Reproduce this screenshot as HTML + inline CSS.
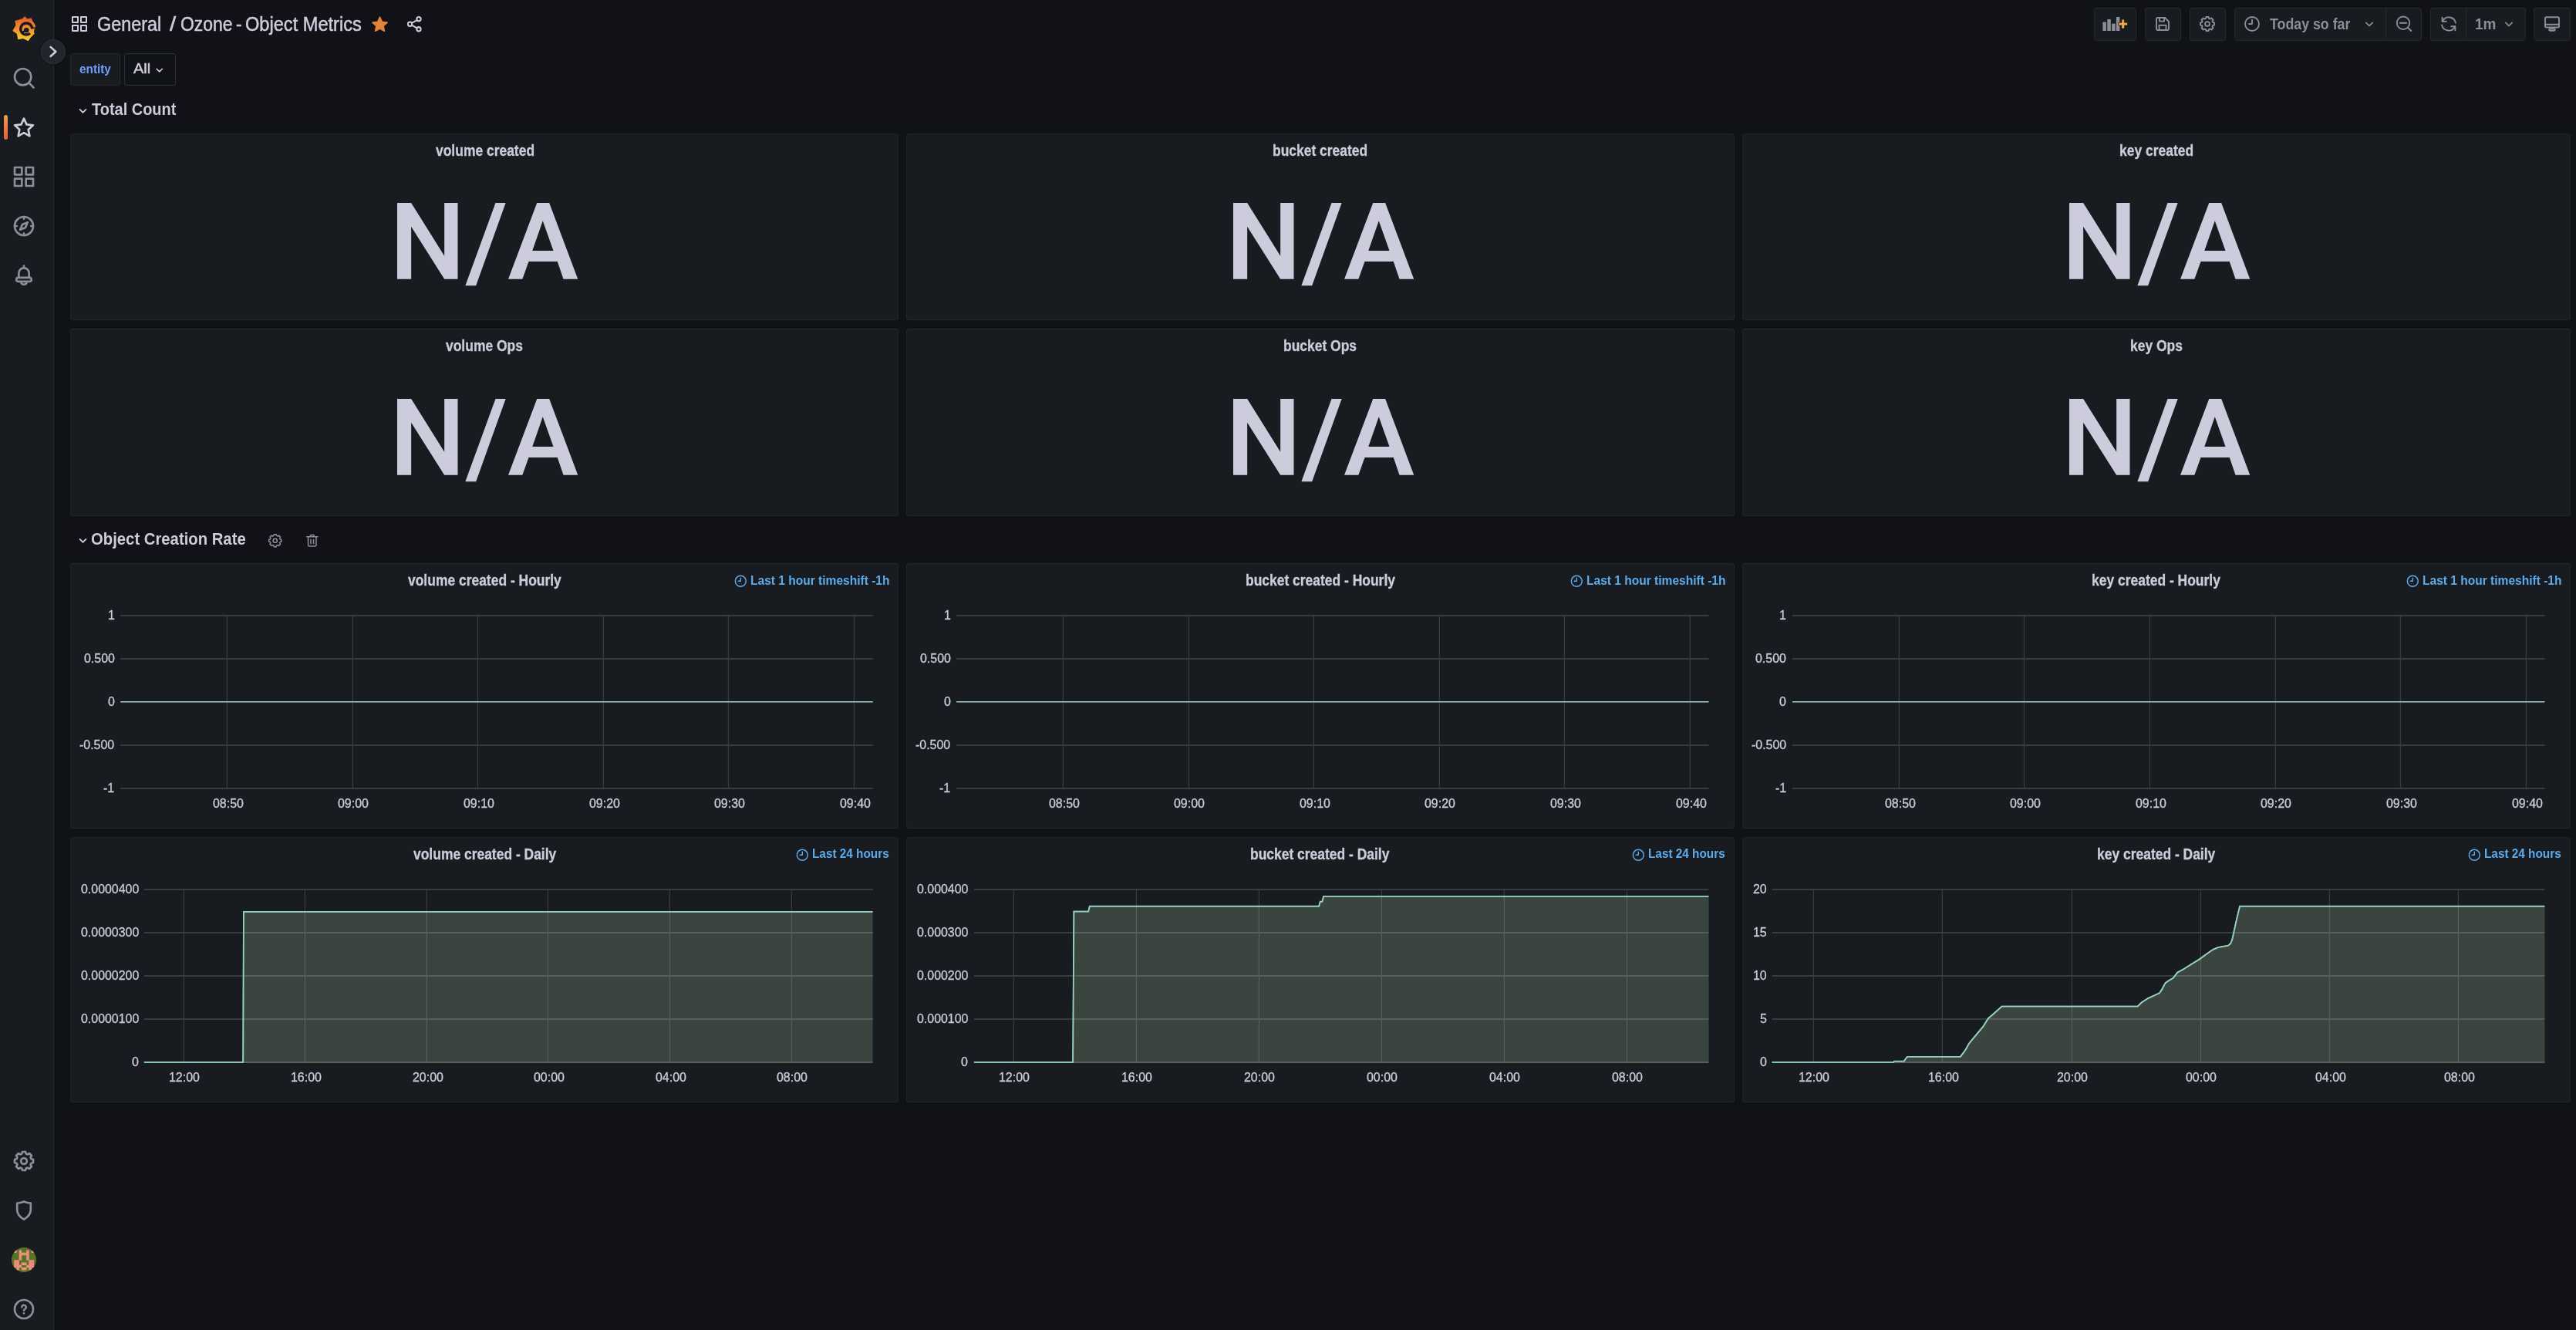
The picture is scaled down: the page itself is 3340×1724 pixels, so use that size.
<!DOCTYPE html>
<html><head><meta charset="utf-8"><title>Ozone - Object Metrics - Grafana</title>
<style>
html,body{margin:0;padding:0;}
body{width:3340px;height:1724px;background:#111217;position:relative;overflow:hidden;font-family:"Liberation Sans",sans-serif;}
.a{position:absolute;display:block;}
.t{position:absolute;white-space:nowrap;line-height:normal;transform-origin:0 0;}
</style></head><body>
<div class="a" style="left:0.00px;top:0.00px;width:69.00px;height:1724.00px;background:#181b1f;"></div>
<div class="a" style="left:69.00px;top:0.00px;width:1.00px;height:1724.00px;background:#26282d;"></div>
<svg class="a" style="left:16.10px;top:21.00px;" width="30.20" height="32.20" viewBox="0 0 30.2 32.2"><defs><linearGradient id="lg" x1="0" y1="0" x2="0" y2="1"><stop offset="0" stop-color="#e8552c"/><stop offset="0.45" stop-color="#ef8a2d"/><stop offset="1" stop-color="#f6cf33"/></linearGradient></defs>
<path fill="url(#lg)" d="M16.100 0 L19.200 3.300 L24.800 2.600 L26.400 6.800 C28.600 8.800 29.900 11.500 30.100 14.300 L28.700 14.700 C28.600 17 28.300 19.500 27.900 21 L28.900 22.400 L23.900 27.600 L20.750 32.200 L13.900 29.100 L7.300 30.300 L5.750 22.800 L0.250 19.100 L4.500 11.600 L3.250 5.900 L8.900 4.600 L13.250 3.100 Z"/>
<path d="M23.070 22.250 A7.500 7.500 0 1 1 25.640 15.200" fill="none" stroke="#181b1f" stroke-width="3.400"/>
<path d="M24 14.900 L27.300 14.300 L29.700 14.500 L27 16.200 L24.800 16.900 Z" fill="#181b1f"/>
<circle cx="18.250" cy="18.300" r="3.300" fill="#181b1f"/>
<path d="M16 19.300 L12.500 21.200" stroke="#181b1f" stroke-width="2.400" fill="none"/></svg>
<div class="a" style="left:53px;top:51.2px;width:32px;height:32px;border-radius:50%;background:#22252b;box-shadow:inset 0 0 0 1px #2e3138, 0 0 3px rgba(0,0,0,.5);"></div>
<svg class="a" style="left:53.00px;top:51.20px;" width="32.00" height="32.00" viewBox="0 0 32 32"><path d="M12.600 9.900L19.300 16 12.600 22" fill="none" stroke="#ccccdc" stroke-width="2.6" stroke-linecap="round" stroke-linejoin="round"/></svg>
<div class="a" style="left:5px;top:149px;width:5px;height:31.500px;border-radius:2.500px;background:linear-gradient(#f39a4c,#e8613c);"></div>
<svg class="a" style="left:15.00px;top:85.00px;" width="32.00" height="32.00" viewBox="0 0 24 24"><g fill="none" stroke="#8d8e9a" color="#8d8e9a" stroke-width="2.0" stroke-linecap="round" stroke-linejoin="round"><circle cx="11" cy="11" r="8"/><path d="M17 17l4.400 4.400"/></g></svg>
<svg class="a" style="left:15.00px;top:149.00px;" width="32.00" height="32.00" viewBox="0 0 24 24"><g fill="none" stroke="#ccccdc" color="#ccccdc" stroke-width="2.0" stroke-linecap="round" stroke-linejoin="round"><path d="M12.00 3.50L14.65 9.26L20.94 10.00L16.28 14.29L17.53 20.50L12.00 17.40L6.47 20.50L7.72 14.29L3.06 10.00L9.35 9.26Z"/></g></svg>
<svg class="a" style="left:15.00px;top:213.00px;" width="32.00" height="32.00" viewBox="0 0 24 24"><g fill="none" stroke="#8d8e9a" color="#8d8e9a" stroke-width="2.0" stroke-linecap="round" stroke-linejoin="round"><rect x="3" y="3" width="7" height="7"/><rect x="14" y="3" width="7" height="7"/><rect x="3" y="14" width="7" height="7"/><rect x="14" y="14" width="7" height="7"/></g></svg>
<svg class="a" style="left:15.00px;top:277.00px;" width="32.00" height="32.00" viewBox="0 0 24 24"><g fill="none" stroke="#8d8e9a" color="#8d8e9a" stroke-width="2.0" stroke-linecap="round" stroke-linejoin="round"><circle cx="12" cy="12" r="9"/><path d="M15.6 8.4l-2.1 5.1-5.1 2.1 2.1-5.1z"/><path d="M12 3v2.100M12 18.900V21M3 12h2.100M18.900 12H21" stroke-width="1.900"/></g></svg>
<svg class="a" style="left:15.00px;top:341.00px;" width="32.00" height="32.00" viewBox="0 0 24 24"><g fill="none" stroke="#8d8e9a" color="#8d8e9a" stroke-width="2.0" stroke-linecap="round" stroke-linejoin="round"><path d="M12 2.700v2.100M7 14.200V9.800a5 5 0 0 1 10 0v4.400"/><rect x="4.700" y="14.200" width="14.600" height="3.700" rx="1.800"/><path d="M9.200 18.700a2.900 2.900 0 0 0 5.600 0"/></g></svg>
<svg class="a" style="left:15.00px;top:1489.00px;" width="32.00" height="32.00" viewBox="0 0 24 24"><g fill="none" stroke="#8d8e9a" color="#8d8e9a" stroke-width="2.0" stroke-linecap="round" stroke-linejoin="round"><path d="M10.41 2.99L13.59 2.99L14.03 4.93L15.56 5.57L17.25 4.50L19.50 6.75L18.43 8.44L19.07 9.97L21.01 10.41L21.01 13.59L19.07 14.03L18.43 15.56L19.50 17.25L17.25 19.50L15.56 18.43L14.03 19.07L13.59 21.01L10.41 21.01L9.97 19.07L8.44 18.43L6.75 19.50L4.50 17.25L5.57 15.56L4.93 14.03L2.99 13.59L2.99 10.41L4.93 9.97L5.57 8.44L4.50 6.75L6.75 4.50L8.44 5.57L9.97 4.93Z"/><circle cx="12" cy="12" r="2.9"/></g></svg>
<svg class="a" style="left:15.00px;top:1553.00px;" width="32.00" height="32.00" viewBox="0 0 24 24"><g fill="none" stroke="#8d8e9a" color="#8d8e9a" stroke-width="2.0" stroke-linecap="round" stroke-linejoin="round"><path d="M12 3.4c2.2 1 4.4 1.5 6.6 1.5v6.6c0 4-2.6 7-6.6 9.2-4-2.2-6.6-5.2-6.6-9.2V4.9c2.2 0 4.4-.5 6.6-1.5z"/></g></svg>
<svg class="a" style="left:15.00px;top:1681.00px;" width="32.00" height="32.00" viewBox="0 0 24 24"><g fill="none" stroke="#8d8e9a" color="#8d8e9a" stroke-width="2.0" stroke-linecap="round" stroke-linejoin="round"><circle cx="12" cy="12" r="9"/><path d="M10 10.100a2.050 2.050 0 1 1 3 1.800c-.6.350-1 .800-1 1.500" stroke-width="1.800"/><circle cx="12" cy="16" r="1" fill="currentColor" stroke="none"/></g></svg>
<svg class="a" style="left:15.00px;top:1617.00px;" width="32.00" height="32.00" viewBox="0 0 32 32"><defs><clipPath id="avc"><circle cx="16" cy="16" r="16"/></clipPath></defs><g clip-path="url(#avc)"><rect width="32" height="32" fill="#567523"/><rect x="3.2" y="3.5" width="3.5" height="3.5" fill="#f08c82"/><rect x="9.6" y="3.5" width="3.5" height="3.5" fill="#f08c82"/><rect x="19.2" y="3.5" width="3.5" height="3.5" fill="#f08c82"/><rect x="25.6" y="3.5" width="3.5" height="3.5" fill="#f08c82"/><rect x="9.6" y="6.7" width="3.5" height="3.5" fill="#f08c82"/><rect x="12.8" y="6.7" width="3.5" height="3.5" fill="#f08c82"/><rect x="16.0" y="6.7" width="3.5" height="3.5" fill="#f08c82"/><rect x="19.2" y="6.7" width="3.5" height="3.5" fill="#f08c82"/><rect x="9.6" y="9.9" width="3.5" height="3.5" fill="#f08c82"/><rect x="19.2" y="9.9" width="3.5" height="3.5" fill="#f08c82"/><rect x="9.6" y="13.1" width="3.5" height="3.5" fill="#f08c82"/><rect x="19.2" y="13.1" width="3.5" height="3.5" fill="#f08c82"/><rect x="3.2" y="16.3" width="3.5" height="3.5" fill="#f08c82"/><rect x="6.4" y="16.3" width="3.5" height="3.5" fill="#f08c82"/><rect x="22.4" y="16.3" width="3.5" height="3.5" fill="#f08c82"/><rect x="25.6" y="16.3" width="3.5" height="3.5" fill="#f08c82"/><rect x="3.2" y="19.5" width="3.5" height="3.5" fill="#f08c82"/><rect x="6.4" y="19.5" width="3.5" height="3.5" fill="#f08c82"/><rect x="12.8" y="19.5" width="3.5" height="3.5" fill="#f08c82"/><rect x="16.0" y="19.5" width="3.5" height="3.5" fill="#f08c82"/><rect x="22.4" y="19.5" width="3.5" height="3.5" fill="#f08c82"/><rect x="25.6" y="19.5" width="3.5" height="3.5" fill="#f08c82"/><rect x="3.2" y="22.7" width="3.5" height="3.5" fill="#f08c82"/><rect x="6.4" y="22.7" width="3.5" height="3.5" fill="#f08c82"/><rect x="9.6" y="22.7" width="3.5" height="3.5" fill="#f08c82"/><rect x="19.2" y="22.7" width="3.5" height="3.5" fill="#f08c82"/><rect x="22.4" y="22.7" width="3.5" height="3.5" fill="#f08c82"/><rect x="25.6" y="22.7" width="3.5" height="3.5" fill="#f08c82"/><rect x="6.4" y="25.9" width="3.5" height="3.5" fill="#f08c82"/><rect x="12.8" y="25.9" width="3.5" height="3.5" fill="#f08c82"/><rect x="16.0" y="25.9" width="3.5" height="3.5" fill="#f08c82"/><rect x="22.4" y="25.9" width="3.5" height="3.5" fill="#f08c82"/></g></svg>
<svg class="a" style="left:90.70px;top:19.00px;" width="24.00" height="24.00" viewBox="0 0 24 24"><g fill="none" stroke="#ccccdc" color="#ccccdc" stroke-width="2.0" stroke-linecap="round" stroke-linejoin="round"><rect x="3" y="3" width="7" height="7"/><rect x="14" y="3" width="7" height="7"/><rect x="3" y="14" width="7" height="7"/><rect x="14" y="14" width="7" height="7"/></g></svg>
<svg class="a" style="left:480.00px;top:19.00px;" width="25.00" height="25.00" viewBox="0 0 24 24"><path d="M12.00 3.00L14.70 8.88L21.13 9.63L16.37 14.02L17.64 20.37L12.00 17.20L6.36 20.37L7.63 14.02L2.87 9.63L9.30 8.88Z" fill="#e2833a" stroke="#e2833a" stroke-width="1.6" stroke-linejoin="round"/></svg>
<svg class="a" style="left:524.55px;top:18.75px;" width="24.50" height="24.50" viewBox="0 0 24 24"><g fill="none" stroke="#ccccdc" color="#ccccdc" stroke-width="2.0" stroke-linecap="round" stroke-linejoin="round"><circle cx="17.6" cy="5.6" r="2.6"/><circle cx="6.4" cy="12" r="2.6"/><circle cx="17.6" cy="18.4" r="2.6"/><path d="M8.7 10.7l6.6-3.8M8.7 13.3l6.6 3.8"/></g></svg>
<div class="a" style="left:2715.00px;top:10.25px;width:55.00px;height:42.50px;background:#181b1f;border:1px solid #25272c;box-sizing:border-box;border-radius:3px;"></div>
<div class="a" style="left:2781.00px;top:10.25px;width:47.00px;height:42.50px;background:#181b1f;border:1px solid #25272c;box-sizing:border-box;border-radius:3px;"></div>
<div class="a" style="left:2839.00px;top:10.25px;width:47.00px;height:42.50px;background:#181b1f;border:1px solid #25272c;box-sizing:border-box;border-radius:3px;"></div>
<div class="a" style="left:2897.00px;top:10.25px;width:197.00px;height:42.50px;background:#181b1f;border:1px solid #25272c;box-sizing:border-box;border-radius:3px 0 0 3px;"></div>
<div class="a" style="left:3093.00px;top:10.25px;width:47.00px;height:42.50px;background:#181b1f;border:1px solid #25272c;box-sizing:border-box;border-radius:0 3px 3px 0;"></div>
<div class="a" style="left:3151.00px;top:10.25px;width:47.00px;height:42.50px;background:#181b1f;border:1px solid #25272c;box-sizing:border-box;border-radius:3px 0 0 3px;"></div>
<div class="a" style="left:3197.00px;top:10.25px;width:78.00px;height:42.50px;background:#181b1f;border:1px solid #25272c;box-sizing:border-box;border-radius:0 3px 3px 0;"></div>
<div class="a" style="left:3285.00px;top:10.25px;width:48.00px;height:42.50px;background:#181b1f;border:1px solid #25272c;box-sizing:border-box;border-radius:3px;"></div>
<svg class="a" style="left:2725.50px;top:22.00px;" width="33.00" height="18.00" viewBox="0 0 33 18"><g fill="#8d8e9a"><rect x="0.4" y="6.5" width="4.5" height="11.5"/><rect x="6.3" y="3" width="4.5" height="15"/><rect x="12.15" y="8.6" width="4.5" height="9.4"/><rect x="17.9" y="0" width="4.5" height="18"/></g><defs><linearGradient id="pg" x1="0" y1="0" x2="0" y2="1"><stop offset="0" stop-color="#f0943a"/><stop offset="1" stop-color="#f7c13c"/></linearGradient></defs><path d="M20.75 7.2h4.100v-4.100h3.700v4.100h4.100v3.700h-4.100v4.100h-3.700v-4.100h-4.100z" fill="url(#pg)" stroke="#181b1f" stroke-width="0.8"/></svg>
<svg class="a" style="left:2791.60px;top:19.25px;" width="24.00" height="24.00" viewBox="0 0 24 24"><g fill="none" stroke="#8d8e9a" color="#8d8e9a" stroke-width="1.9" stroke-linecap="round" stroke-linejoin="round"><path d="M4 5.5A1.5 1.5 0 0 1 5.5 4H15l5 5v9.5a1.5 1.5 0 0 1-1.5 1.5h-13A1.5 1.5 0 0 1 4 18.500z"/><path d="M8 4v4.600h6V4M7.5 20v-6.200h9V20"/></g></svg>
<svg class="a" style="left:2850.00px;top:19.25px;" width="24.00" height="24.00" viewBox="0 0 24 24"><g fill="none" stroke="#8d8e9a" color="#8d8e9a" stroke-width="1.9" stroke-linecap="round" stroke-linejoin="round"><path d="M10.41 2.99L13.59 2.99L14.03 4.93L15.56 5.57L17.25 4.50L19.50 6.75L18.43 8.44L19.07 9.97L21.01 10.41L21.01 13.59L19.07 14.03L18.43 15.56L19.50 17.25L17.25 19.50L15.56 18.43L14.03 19.07L13.59 21.01L10.41 21.01L9.97 19.07L8.44 18.43L6.75 19.50L4.50 17.25L5.57 15.56L4.93 14.03L2.99 13.59L2.99 10.41L4.93 9.97L5.57 8.44L4.50 6.75L6.75 4.50L8.44 5.57L9.97 4.93Z"/><circle cx="12" cy="12" r="2.9"/></g></svg>
<svg class="a" style="left:2908.00px;top:19.25px;" width="24.00" height="24.00" viewBox="0 0 24 24"><g fill="none" stroke="#8d8e9a" color="#8d8e9a" stroke-width="1.9" stroke-linecap="round" stroke-linejoin="round"><circle cx="12" cy="12" r="9"/><path d="M12 6.800V12H8"/></g></svg>
<svg class="a" style="left:3061.75px;top:20.50px;" width="20.00" height="20.00" viewBox="0 0 24 24"><g fill="none" stroke="#8d8e9a" color="#8d8e9a" stroke-width="2.1" stroke-linecap="round" stroke-linejoin="round"><path d="M7 10l5 5 5-5"/></g></svg>
<svg class="a" style="left:3105.00px;top:19.25px;" width="24.00" height="24.00" viewBox="0 0 24 24"><g fill="none" stroke="#8d8e9a" color="#8d8e9a" stroke-width="1.9" stroke-linecap="round" stroke-linejoin="round"><circle cx="11" cy="10.75" r="8.2"/><path d="M17 16.8L21.200 21M6.800 10.750h8.400"/></g></svg>
<svg class="a" style="left:3162.75px;top:19.25px;" width="24.00" height="24.00" viewBox="0 0 24 24"><g fill="none" stroke="#8d8e9a" color="#8d8e9a" stroke-width="1.9" stroke-linecap="round" stroke-linejoin="round"><path d="M3.9 8.7A9 9 0 0 1 20.9 10.600M20.100 15.300A9 9 0 0 1 3.100 13.400"/><path d="M3.600 3.600v5.100h5.100M20.400 20.400v-5.100h-5.100"/></g></svg>
<svg class="a" style="left:3242.80px;top:20.50px;" width="20.00" height="20.00" viewBox="0 0 24 24"><g fill="none" stroke="#8d8e9a" color="#8d8e9a" stroke-width="2.1" stroke-linecap="round" stroke-linejoin="round"><path d="M7 10l5 5 5-5"/></g></svg>
<svg class="a" style="left:3297.00px;top:19.25px;" width="24.00" height="24.00" viewBox="0 0 24 24"><g fill="none" stroke="#8d8e9a" color="#8d8e9a" stroke-width="1.9" stroke-linecap="round" stroke-linejoin="round"><rect x="3" y="3.300" width="18" height="13.200" rx="1.800"/><path d="M3 12.800h18"/><rect x="8.200" y="18.300" width="7.600" height="2.500" rx="1.200"/></g></svg>
<div class="a" style="left:91.00px;top:69.00px;width:65.00px;height:41.50px;background:#181b1f;border:1px solid #25272c;box-sizing:border-box;border-radius:3px;"></div>
<div class="a" style="left:161.00px;top:69.00px;width:67.00px;height:41.50px;background:#111217;border:1px solid #2c2f36;box-sizing:border-box;border-radius:3px;"></div>
<svg class="a" style="left:197.75px;top:81.55px;" width="17.50" height="17.50" viewBox="0 0 24 24"><g fill="none" stroke="#ccccdc" color="#ccccdc" stroke-width="2.2" stroke-linecap="round" stroke-linejoin="round"><path d="M7 10l5 5 5-5"/></g></svg>
<svg class="a" style="left:98.10px;top:133.70px;" width="19.00" height="19.00" viewBox="0 0 24 24"><g fill="none" stroke="#ccccdc" color="#ccccdc" stroke-width="2.3" stroke-linecap="round" stroke-linejoin="round"><path d="M7 10l5 5 5-5"/></g></svg>
<svg class="a" style="left:98.10px;top:690.70px;" width="19.00" height="19.00" viewBox="0 0 24 24"><g fill="none" stroke="#ccccdc" color="#ccccdc" stroke-width="2.3" stroke-linecap="round" stroke-linejoin="round"><path d="M7 10l5 5 5-5"/></g></svg>
<svg class="a" style="left:345.75px;top:689.75px;" width="21.50" height="21.50" viewBox="0 0 24 24"><g fill="none" stroke="#8d8e9a" color="#8d8e9a" stroke-width="1.7" stroke-linecap="round" stroke-linejoin="round"><path d="M10.41 2.99L13.59 2.99L14.03 4.93L15.56 5.57L17.25 4.50L19.50 6.75L18.43 8.44L19.07 9.97L21.01 10.41L21.01 13.59L19.07 14.03L18.43 15.56L19.50 17.25L17.25 19.50L15.56 18.43L14.03 19.07L13.59 21.01L10.41 21.01L9.97 19.07L8.44 18.43L6.75 19.50L4.50 17.25L5.57 15.56L4.93 14.03L2.99 13.59L2.99 10.41L4.93 9.97L5.57 8.44L4.50 6.75L6.75 4.50L8.44 5.57L9.97 4.93Z"/><circle cx="12" cy="12" r="2.9"/></g></svg>
<svg class="a" style="left:394.00px;top:689.55px;" width="21.50" height="21.50" viewBox="0 0 24 24"><g fill="none" stroke="#8d8e9a" color="#8d8e9a" stroke-width="1.7" stroke-linecap="round" stroke-linejoin="round"><path d="M4 6.500h16M9.500 6.500V4h5v2.500M6.200 6.500v12a1.600 1.600 0 0 0 1.600 1.600h8.400a1.600 1.600 0 0 0 1.600-1.600v-12M10 10.500v6M14 10.500v6"/></g></svg>
<div class="a" style="left:91.00px;top:173.00px;width:1074.00px;height:242.00px;background:#181b1f;border:1px solid #22252a;box-sizing:border-box;border-radius:3px;"></div>
<svg class="a" style="left:514.75px;top:263.10px;" width="236.00" height="109.00" viewBox="0 0 236 109"><g fill="#ccccdc"><path d="M0 0H18.150L61.150 68.800V0H78.500V98.800H61.150L18.150 30.650V98.800H0Z"/><path d="M127.500 0H140.650L102.150 107.150H88.350Z"/><path fill-rule="evenodd" d="M144 98.800L181.250 0H197.150L234.250 98.800H215.500L207.750 76H170.500L162.350 98.800ZM188.750 23.150L202.500 61.900H175.250Z"/></g></svg>
<div class="a" style="left:1175.00px;top:173.00px;width:1074.00px;height:242.00px;background:#181b1f;border:1px solid #22252a;box-sizing:border-box;border-radius:3px;"></div>
<svg class="a" style="left:1598.65px;top:263.10px;" width="236.00" height="109.00" viewBox="0 0 236 109"><g fill="#ccccdc"><path d="M0 0H18.150L61.150 68.800V0H78.500V98.800H61.150L18.150 30.650V98.800H0Z"/><path d="M127.500 0H140.650L102.150 107.150H88.350Z"/><path fill-rule="evenodd" d="M144 98.800L181.250 0H197.150L234.250 98.800H215.500L207.750 76H170.500L162.350 98.800ZM188.750 23.150L202.500 61.900H175.250Z"/></g></svg>
<div class="a" style="left:2259.00px;top:173.00px;width:1073.50px;height:242.00px;background:#181b1f;border:1px solid #22252a;box-sizing:border-box;border-radius:3px;"></div>
<svg class="a" style="left:2682.55px;top:263.10px;" width="236.00" height="109.00" viewBox="0 0 236 109"><g fill="#ccccdc"><path d="M0 0H18.150L61.150 68.800V0H78.500V98.800H61.150L18.150 30.650V98.800H0Z"/><path d="M127.500 0H140.650L102.150 107.150H88.350Z"/><path fill-rule="evenodd" d="M144 98.800L181.250 0H197.150L234.250 98.800H215.500L207.750 76H170.500L162.350 98.800ZM188.750 23.150L202.500 61.900H175.250Z"/></g></svg>
<div class="a" style="left:91.00px;top:426.00px;width:1074.00px;height:243.00px;background:#181b1f;border:1px solid #22252a;box-sizing:border-box;border-radius:3px;"></div>
<svg class="a" style="left:514.75px;top:516.50px;" width="236.00" height="109.00" viewBox="0 0 236 109"><g fill="#ccccdc"><path d="M0 0H18.150L61.150 68.800V0H78.500V98.800H61.150L18.150 30.650V98.800H0Z"/><path d="M127.500 0H140.650L102.150 107.150H88.350Z"/><path fill-rule="evenodd" d="M144 98.800L181.250 0H197.150L234.250 98.800H215.500L207.750 76H170.500L162.350 98.800ZM188.750 23.150L202.500 61.900H175.250Z"/></g></svg>
<div class="a" style="left:1175.00px;top:426.00px;width:1074.00px;height:243.00px;background:#181b1f;border:1px solid #22252a;box-sizing:border-box;border-radius:3px;"></div>
<svg class="a" style="left:1598.65px;top:516.50px;" width="236.00" height="109.00" viewBox="0 0 236 109"><g fill="#ccccdc"><path d="M0 0H18.150L61.150 68.800V0H78.500V98.800H61.150L18.150 30.650V98.800H0Z"/><path d="M127.500 0H140.650L102.150 107.150H88.350Z"/><path fill-rule="evenodd" d="M144 98.800L181.250 0H197.150L234.250 98.800H215.500L207.750 76H170.500L162.350 98.800ZM188.750 23.150L202.500 61.900H175.250Z"/></g></svg>
<div class="a" style="left:2259.00px;top:426.00px;width:1073.50px;height:243.00px;background:#181b1f;border:1px solid #22252a;box-sizing:border-box;border-radius:3px;"></div>
<svg class="a" style="left:2682.55px;top:516.50px;" width="236.00" height="109.00" viewBox="0 0 236 109"><g fill="#ccccdc"><path d="M0 0H18.150L61.150 68.800V0H78.500V98.800H61.150L18.150 30.650V98.800H0Z"/><path d="M127.500 0H140.650L102.150 107.150H88.350Z"/><path fill-rule="evenodd" d="M144 98.800L181.250 0H197.150L234.250 98.800H215.500L207.750 76H170.500L162.350 98.800ZM188.750 23.150L202.500 61.900H175.250Z"/></g></svg>
<div class="a" style="left:91.00px;top:730.00px;width:1074.00px;height:344.00px;background:#181b1f;border:1px solid #22252a;box-sizing:border-box;border-radius:3px;"></div>
<svg class="a" style="left:951.35px;top:744.00px;" width="18.60" height="18.60" viewBox="0 0 24 24"><g fill="none" stroke="#5cacec" color="#5cacec" stroke-width="1.9" stroke-linecap="round" stroke-linejoin="round"><circle cx="12" cy="12" r="9"/><path d="M12 6.800V12H8"/></g></svg>
<svg class="a" style="left:0;top:0" width="3340" height="1724" viewBox="0 0 3340 1724"><rect x="293" y="797" width="1" height="226" fill="#1e2125"/><rect x="456" y="797" width="1" height="226" fill="#1e2125"/><rect x="618" y="797" width="1" height="226" fill="#1e2125"/><rect x="781" y="797" width="1" height="226" fill="#1e2125"/><rect x="943" y="797" width="1" height="226" fill="#1e2125"/><rect x="1106" y="797" width="1" height="226" fill="#1e2125"/><rect x="156.30" y="797" width="975.30" height="2" fill="#383c3f"/><rect x="156.30" y="853" width="975.30" height="2" fill="#383c3f"/><rect x="156.30" y="909" width="975.30" height="2" fill="#383c3f"/><rect x="156.30" y="965" width="975.30" height="2" fill="#383c3f"/><rect x="156.30" y="1021" width="975.30" height="2" fill="#383c3f"/><rect x="294" y="797" width="1" height="226" fill="#3a3b41"/><rect x="457" y="797" width="1" height="226" fill="#3a3b41"/><rect x="619" y="797" width="1" height="226" fill="#3a3b41"/><rect x="782" y="797" width="1" height="226" fill="#3a3b41"/><rect x="944" y="797" width="1" height="226" fill="#3a3b41"/><rect x="1107" y="797" width="1" height="226" fill="#3a3b41"/><rect x="156.30" y="909" width="975.30" height="1" fill="#8ad2e0"/><rect x="156.30" y="910" width="975.30" height="1" fill="#6e7d64"/></svg>
<div class="a" style="left:1175.00px;top:730.00px;width:1074.00px;height:344.00px;background:#181b1f;border:1px solid #22252a;box-sizing:border-box;border-radius:3px;"></div>
<svg class="a" style="left:2035.25px;top:744.00px;" width="18.60" height="18.60" viewBox="0 0 24 24"><g fill="none" stroke="#5cacec" color="#5cacec" stroke-width="1.9" stroke-linecap="round" stroke-linejoin="round"><circle cx="12" cy="12" r="9"/><path d="M12 6.800V12H8"/></g></svg>
<svg class="a" style="left:0;top:0" width="3340" height="1724" viewBox="0 0 3340 1724"><rect x="1377" y="797" width="1" height="226" fill="#1e2125"/><rect x="1540" y="797" width="1" height="226" fill="#1e2125"/><rect x="1702" y="797" width="1" height="226" fill="#1e2125"/><rect x="1865" y="797" width="1" height="226" fill="#1e2125"/><rect x="2027" y="797" width="1" height="226" fill="#1e2125"/><rect x="2190" y="797" width="1" height="226" fill="#1e2125"/><rect x="1240.20" y="797" width="975.30" height="2" fill="#383c3f"/><rect x="1240.20" y="853" width="975.30" height="2" fill="#383c3f"/><rect x="1240.20" y="909" width="975.30" height="2" fill="#383c3f"/><rect x="1240.20" y="965" width="975.30" height="2" fill="#383c3f"/><rect x="1240.20" y="1021" width="975.30" height="2" fill="#383c3f"/><rect x="1378" y="797" width="1" height="226" fill="#3a3b41"/><rect x="1541" y="797" width="1" height="226" fill="#3a3b41"/><rect x="1703" y="797" width="1" height="226" fill="#3a3b41"/><rect x="1866" y="797" width="1" height="226" fill="#3a3b41"/><rect x="2028" y="797" width="1" height="226" fill="#3a3b41"/><rect x="2191" y="797" width="1" height="226" fill="#3a3b41"/><rect x="1240.20" y="909" width="975.30" height="1" fill="#8ad2e0"/><rect x="1240.20" y="910" width="975.30" height="1" fill="#6e7d64"/></svg>
<div class="a" style="left:2259.00px;top:730.00px;width:1073.50px;height:344.00px;background:#181b1f;border:1px solid #22252a;box-sizing:border-box;border-radius:3px;"></div>
<svg class="a" style="left:3119.15px;top:744.00px;" width="18.60" height="18.60" viewBox="0 0 24 24"><g fill="none" stroke="#5cacec" color="#5cacec" stroke-width="1.9" stroke-linecap="round" stroke-linejoin="round"><circle cx="12" cy="12" r="9"/><path d="M12 6.800V12H8"/></g></svg>
<svg class="a" style="left:0;top:0" width="3340" height="1724" viewBox="0 0 3340 1724"><rect x="2461" y="797" width="1" height="226" fill="#1e2125"/><rect x="2623" y="797" width="1" height="226" fill="#1e2125"/><rect x="2786" y="797" width="1" height="226" fill="#1e2125"/><rect x="2949" y="797" width="1" height="226" fill="#1e2125"/><rect x="3111" y="797" width="1" height="226" fill="#1e2125"/><rect x="3274" y="797" width="1" height="226" fill="#1e2125"/><rect x="2324.10" y="797" width="975.30" height="2" fill="#383c3f"/><rect x="2324.10" y="853" width="975.30" height="2" fill="#383c3f"/><rect x="2324.10" y="909" width="975.30" height="2" fill="#383c3f"/><rect x="2324.10" y="965" width="975.30" height="2" fill="#383c3f"/><rect x="2324.10" y="1021" width="975.30" height="2" fill="#383c3f"/><rect x="2462" y="797" width="1" height="226" fill="#3a3b41"/><rect x="2624" y="797" width="1" height="226" fill="#3a3b41"/><rect x="2787" y="797" width="1" height="226" fill="#3a3b41"/><rect x="2950" y="797" width="1" height="226" fill="#3a3b41"/><rect x="3112" y="797" width="1" height="226" fill="#3a3b41"/><rect x="3275" y="797" width="1" height="226" fill="#3a3b41"/><rect x="2324.10" y="909" width="975.30" height="1" fill="#8ad2e0"/><rect x="2324.10" y="910" width="975.30" height="1" fill="#6e7d64"/></svg>
<div class="a" style="left:91.00px;top:1085.00px;width:1074.00px;height:344.00px;background:#181b1f;border:1px solid #22252a;box-sizing:border-box;border-radius:3px;"></div>
<svg class="a" style="left:1031.30px;top:1099.00px;" width="18.60" height="18.60" viewBox="0 0 24 24"><g fill="none" stroke="#5cacec" color="#5cacec" stroke-width="1.9" stroke-linecap="round" stroke-linejoin="round"><circle cx="12" cy="12" r="9"/><path d="M12 6.800V12H8"/></g></svg>
<svg class="a" style="left:0;top:0" width="3340" height="1724" viewBox="0 0 3340 1724"><rect x="237" y="1152" width="1" height="226" fill="#1e2125"/><rect x="394" y="1152" width="1" height="226" fill="#1e2125"/><rect x="552" y="1152" width="1" height="226" fill="#1e2125"/><rect x="709" y="1152" width="1" height="226" fill="#1e2125"/><rect x="867" y="1152" width="1" height="226" fill="#1e2125"/><rect x="1025" y="1152" width="1" height="226" fill="#1e2125"/><rect x="187.00" y="1152" width="944.60" height="2" fill="#383c3f"/><rect x="187.00" y="1208" width="944.60" height="2" fill="#383c3f"/><rect x="187.00" y="1264" width="944.60" height="2" fill="#383c3f"/><rect x="187.00" y="1320" width="944.60" height="2" fill="#383c3f"/><rect x="187.00" y="1376" width="944.60" height="2" fill="#383c3f"/><rect x="238" y="1152" width="1" height="226" fill="#3a3b41"/><rect x="395" y="1152" width="1" height="226" fill="#3a3b41"/><rect x="553" y="1152" width="1" height="226" fill="#3a3b41"/><rect x="710" y="1152" width="1" height="226" fill="#3a3b41"/><rect x="868" y="1152" width="1" height="226" fill="#3a3b41"/><rect x="1026" y="1152" width="1" height="226" fill="#3a3b41"/><path d="M187.00 1377.00L315.30 1377.00L316.00 1182.00L1131.60 1182.00L1131.60 1378L187.00 1378Z" fill="rgba(200,242,194,0.2)" stroke="none"/><path d="M187.00 1377.00L315.30 1377.00L316.00 1182.00L1131.60 1182.00" stroke="#9dcdb0" stroke-width="1.7" fill="none" stroke-linejoin="miter"/><path d="M187.00 1377.00L315.30 1377.00L316.00 1182.00L1131.60 1182.00" transform="translate(-0.4,-0.4)" stroke="#90d3cb" stroke-width="1.1" fill="none" stroke-linejoin="miter"/></svg>
<div class="a" style="left:1175.00px;top:1085.00px;width:1074.00px;height:344.00px;background:#181b1f;border:1px solid #22252a;box-sizing:border-box;border-radius:3px;"></div>
<svg class="a" style="left:2115.20px;top:1099.00px;" width="18.60" height="18.60" viewBox="0 0 24 24"><g fill="none" stroke="#5cacec" color="#5cacec" stroke-width="1.9" stroke-linecap="round" stroke-linejoin="round"><circle cx="12" cy="12" r="9"/><path d="M12 6.800V12H8"/></g></svg>
<svg class="a" style="left:0;top:0" width="3340" height="1724" viewBox="0 0 3340 1724"><rect x="1313" y="1152" width="1" height="226" fill="#1e2125"/><rect x="1472" y="1152" width="1" height="226" fill="#1e2125"/><rect x="1631" y="1152" width="1" height="226" fill="#1e2125"/><rect x="1790" y="1152" width="1" height="226" fill="#1e2125"/><rect x="1949" y="1152" width="1" height="226" fill="#1e2125"/><rect x="2108" y="1152" width="1" height="226" fill="#1e2125"/><rect x="1263.10" y="1152" width="952.40" height="2" fill="#383c3f"/><rect x="1263.10" y="1208" width="952.40" height="2" fill="#383c3f"/><rect x="1263.10" y="1264" width="952.40" height="2" fill="#383c3f"/><rect x="1263.10" y="1320" width="952.40" height="2" fill="#383c3f"/><rect x="1263.10" y="1376" width="952.40" height="2" fill="#383c3f"/><rect x="1314" y="1152" width="1" height="226" fill="#3a3b41"/><rect x="1473" y="1152" width="1" height="226" fill="#3a3b41"/><rect x="1632" y="1152" width="1" height="226" fill="#3a3b41"/><rect x="1791" y="1152" width="1" height="226" fill="#3a3b41"/><rect x="1950" y="1152" width="1" height="226" fill="#3a3b41"/><rect x="2109" y="1152" width="1" height="226" fill="#3a3b41"/><path d="M1263.10 1377.00L1391.20 1377.00L1392.48 1181.63L1411.27 1181.63L1412.98 1174.80L1710.18 1174.80L1711.89 1168.82L1714.45 1168.82L1716.16 1161.99L2215.50 1161.99L2215.50 1378L1263.10 1378Z" fill="rgba(200,242,194,0.2)" stroke="none"/><path d="M1263.10 1377.00L1391.20 1377.00L1392.48 1181.63L1411.27 1181.63L1412.98 1174.80L1710.18 1174.80L1711.89 1168.82L1714.45 1168.82L1716.16 1161.99L2215.50 1161.99" stroke="#9dcdb0" stroke-width="1.7" fill="none" stroke-linejoin="miter"/><path d="M1263.10 1377.00L1391.20 1377.00L1392.48 1181.63L1411.27 1181.63L1412.98 1174.80L1710.18 1174.80L1711.89 1168.82L1714.45 1168.82L1716.16 1161.99L2215.50 1161.99" transform="translate(-0.4,-0.4)" stroke="#90d3cb" stroke-width="1.1" fill="none" stroke-linejoin="miter"/></svg>
<div class="a" style="left:2259.00px;top:1085.00px;width:1073.50px;height:344.00px;background:#181b1f;border:1px solid #22252a;box-sizing:border-box;border-radius:3px;"></div>
<svg class="a" style="left:3199.10px;top:1099.00px;" width="18.60" height="18.60" viewBox="0 0 24 24"><g fill="none" stroke="#5cacec" color="#5cacec" stroke-width="1.9" stroke-linecap="round" stroke-linejoin="round"><circle cx="12" cy="12" r="9"/><path d="M12 6.800V12H8"/></g></svg>
<svg class="a" style="left:0;top:0" width="3340" height="1724" viewBox="0 0 3340 1724"><rect x="2350" y="1152" width="1" height="226" fill="#1e2125"/><rect x="2517" y="1152" width="1" height="226" fill="#1e2125"/><rect x="2685" y="1152" width="1" height="226" fill="#1e2125"/><rect x="2852" y="1152" width="1" height="226" fill="#1e2125"/><rect x="3019" y="1152" width="1" height="226" fill="#1e2125"/><rect x="3186" y="1152" width="1" height="226" fill="#1e2125"/><rect x="2297.80" y="1152" width="1001.60" height="2" fill="#383c3f"/><rect x="2297.80" y="1208" width="1001.60" height="2" fill="#383c3f"/><rect x="2297.80" y="1264" width="1001.60" height="2" fill="#383c3f"/><rect x="2297.80" y="1320" width="1001.60" height="2" fill="#383c3f"/><rect x="2297.80" y="1376" width="1001.60" height="2" fill="#383c3f"/><rect x="2351" y="1152" width="1" height="226" fill="#3a3b41"/><rect x="2518" y="1152" width="1" height="226" fill="#3a3b41"/><rect x="2686" y="1152" width="1" height="226" fill="#3a3b41"/><rect x="2853" y="1152" width="1" height="226" fill="#3a3b41"/><rect x="3020" y="1152" width="1" height="226" fill="#3a3b41"/><rect x="3187" y="1152" width="1" height="226" fill="#3a3b41"/><path d="M2297.80 1377.00L2455.22 1377.00L2456.07 1375.77L2468.76 1375.77L2472.99 1369.85L2541.96 1369.85L2546.20 1364.35L2549.58 1359.27L2552.97 1352.92L2558.89 1345.73L2565.24 1338.11L2571.58 1330.50L2577.93 1320.34L2584.28 1314.84L2595.70 1304.69L2771.73 1304.69L2776.81 1299.61L2785.27 1294.11L2793.73 1290.30L2800.08 1287.34L2803.46 1282.26L2807.69 1274.22L2812.77 1270.83L2817.85 1267.87L2823.35 1260.68L2831.81 1256.03L2842.39 1249.25L2850.85 1244.18L2861.43 1236.56L2869.90 1230.64L2876.24 1228.10L2882.59 1226.83L2888.94 1225.98L2892.32 1223.02L2894.44 1217.52L2899.52 1194.25L2904.17 1174.78L3299.40 1174.78L3299.40 1378L2297.80 1378Z" fill="rgba(200,242,194,0.2)" stroke="none"/><path d="M2297.80 1377.00L2455.22 1377.00L2456.07 1375.77L2468.76 1375.77L2472.99 1369.85L2541.96 1369.85L2546.20 1364.35L2549.58 1359.27L2552.97 1352.92L2558.89 1345.73L2565.24 1338.11L2571.58 1330.50L2577.93 1320.34L2584.28 1314.84L2595.70 1304.69L2771.73 1304.69L2776.81 1299.61L2785.27 1294.11L2793.73 1290.30L2800.08 1287.34L2803.46 1282.26L2807.69 1274.22L2812.77 1270.83L2817.85 1267.87L2823.35 1260.68L2831.81 1256.03L2842.39 1249.25L2850.85 1244.18L2861.43 1236.56L2869.90 1230.64L2876.24 1228.10L2882.59 1226.83L2888.94 1225.98L2892.32 1223.02L2894.44 1217.52L2899.52 1194.25L2904.17 1174.78L3299.40 1174.78" stroke="#9dcdb0" stroke-width="1.7" fill="none" stroke-linejoin="miter"/><path d="M2297.80 1377.00L2455.22 1377.00L2456.07 1375.77L2468.76 1375.77L2472.99 1369.85L2541.96 1369.85L2546.20 1364.35L2549.58 1359.27L2552.97 1352.92L2558.89 1345.73L2565.24 1338.11L2571.58 1330.50L2577.93 1320.34L2584.28 1314.84L2595.70 1304.69L2771.73 1304.69L2776.81 1299.61L2785.27 1294.11L2793.73 1290.30L2800.08 1287.34L2803.46 1282.26L2807.69 1274.22L2812.77 1270.83L2817.85 1267.87L2823.35 1260.68L2831.81 1256.03L2842.39 1249.25L2850.85 1244.18L2861.43 1236.56L2869.90 1230.64L2876.24 1228.10L2882.59 1226.83L2888.94 1225.98L2892.32 1223.02L2894.44 1217.52L2899.52 1194.25L2904.17 1174.78L3299.40 1174.78" transform="translate(-0.4,-0.4)" stroke="#90d3cb" stroke-width="1.1" fill="none" stroke-linejoin="miter"/></svg>
<div class="a" style="left:0;top:0;width:3340px;height:1724px;will-change:transform;">
<span class="t" style="left:125.67px;top:17.00px;font-size:25px;color:#ccccdc;-webkit-text-stroke:0.5px #ccccdc;transform:scaleX(0.9342);">General</span>
<span class="t" style="left:220.00px;top:17.00px;font-size:25px;color:#ccccdc;-webkit-text-stroke:0.5px #ccccdc;transform:scaleX(1.1714);">/</span>
<span class="t" style="left:234.38px;top:17.00px;font-size:25px;color:#ccccdc;-webkit-text-stroke:0.5px #ccccdc;transform:scaleX(0.9156);">Ozone</span>
<span class="t" style="left:305.80px;top:17.00px;font-size:25px;color:#ccccdc;-webkit-text-stroke:0.5px #ccccdc;transform:scaleX(0.9000);">-</span>
<span class="t" style="left:318.26px;top:17.00px;font-size:25px;color:#ccccdc;-webkit-text-stroke:0.5px #ccccdc;transform:scaleX(0.9441);">Object Metrics</span>
<span class="t" style="left:2943.00px;top:19.90px;font-size:19.6px;color:#8d8e9a;font-weight:700;transform:scaleX(0.9075);">Today so far</span>
<span class="t" style="left:3208.53px;top:19.90px;font-size:19.6px;color:#8d8e9a;font-weight:700;transform:scaleX(0.9666);">1m</span>
<span class="t" style="left:103.00px;top:81.00px;font-size:16px;color:#6e9fff;font-weight:700;transform:scaleX(0.9585);">entity</span>
<span class="t" style="left:173.00px;top:78.25px;font-size:18.67px;color:#ccccdc;-webkit-text-stroke:0.5px #ccccdc;transform:scaleX(1.0721);">All</span>
<span class="t" style="left:119.00px;top:129.10px;font-size:22px;color:#ccccdc;font-weight:700;transform:scaleX(0.9073);">Total Count</span>
<span class="t" style="left:117.80px;top:686.10px;font-size:22px;color:#ccccdc;font-weight:700;transform:scaleX(0.9222);">Object Creation Rate</span>
<span class="t" style="left:564.61px;top:184.20px;font-size:19.6px;color:#ccccdc;font-weight:700;-webkit-text-stroke:0.3px #ccccdc;transform:scaleX(0.8907);">volume created</span>
<span class="t" style="left:511.40px;top:234.90px;font-size:138px;color:transparent;">N/A</span>
<span class="t" style="left:1650.49px;top:184.20px;font-size:19.6px;color:#ccccdc;font-weight:700;-webkit-text-stroke:0.3px #ccccdc;transform:scaleX(0.8907);">bucket created</span>
<span class="t" style="left:1595.30px;top:234.90px;font-size:138px;color:transparent;">N/A</span>
<span class="t" style="left:2747.96px;top:184.20px;font-size:19.6px;color:#ccccdc;font-weight:700;-webkit-text-stroke:0.3px #ccccdc;transform:scaleX(0.8907);">key created</span>
<span class="t" style="left:2679.20px;top:234.90px;font-size:138px;color:transparent;">N/A</span>
<span class="t" style="left:578.21px;top:437.00px;font-size:19.6px;color:#ccccdc;font-weight:700;-webkit-text-stroke:0.3px #ccccdc;transform:scaleX(0.8907);">volume Ops</span>
<span class="t" style="left:511.40px;top:488.30px;font-size:138px;color:transparent;">N/A</span>
<span class="t" style="left:1664.09px;top:437.00px;font-size:19.6px;color:#ccccdc;font-weight:700;-webkit-text-stroke:0.3px #ccccdc;transform:scaleX(0.8907);">bucket Ops</span>
<span class="t" style="left:1595.30px;top:488.30px;font-size:138px;color:transparent;">N/A</span>
<span class="t" style="left:2761.55px;top:437.00px;font-size:19.6px;color:#ccccdc;font-weight:700;-webkit-text-stroke:0.3px #ccccdc;transform:scaleX(0.8907);">key Ops</span>
<span class="t" style="left:2679.20px;top:488.30px;font-size:138px;color:transparent;">N/A</span>
<span class="t" style="left:528.75px;top:741.20px;font-size:19.6px;color:#ccccdc;font-weight:700;-webkit-text-stroke:0.3px #ccccdc;transform:scaleX(0.8907);">volume created - Hourly</span>
<span class="t" style="left:972.88px;top:744.20px;font-size:16px;color:#5cacec;font-weight:700;transform:scaleX(0.9713);">Last 1 hour timeshift -1h</span>
<span class="t" style="left:139.65px;top:789.00px;font-size:16px;color:#ccccdc;-webkit-text-stroke:0.3px #ccccdc;transform:scaleX(0.9950);">1</span>
<span class="t" style="left:108.66px;top:845.00px;font-size:16px;color:#ccccdc;-webkit-text-stroke:0.3px #ccccdc;transform:scaleX(0.9950);">0.500</span>
<span class="t" style="left:139.65px;top:901.00px;font-size:16px;color:#ccccdc;-webkit-text-stroke:0.3px #ccccdc;transform:scaleX(0.9950);">0</span>
<span class="t" style="left:103.36px;top:957.00px;font-size:16px;color:#ccccdc;-webkit-text-stroke:0.3px #ccccdc;transform:scaleX(0.9950);">-0.500</span>
<span class="t" style="left:134.34px;top:1013.00px;font-size:16px;color:#ccccdc;-webkit-text-stroke:0.3px #ccccdc;transform:scaleX(0.9950);">-1</span>
<span class="t" style="left:275.73px;top:1033.30px;font-size:16px;color:#ccccdc;-webkit-text-stroke:0.3px #ccccdc;transform:scaleX(0.9950);">08:50</span>
<span class="t" style="left:438.33px;top:1033.30px;font-size:16px;color:#ccccdc;-webkit-text-stroke:0.3px #ccccdc;transform:scaleX(0.9950);">09:00</span>
<span class="t" style="left:600.93px;top:1033.30px;font-size:16px;color:#ccccdc;-webkit-text-stroke:0.3px #ccccdc;transform:scaleX(0.9950);">09:10</span>
<span class="t" style="left:763.53px;top:1033.30px;font-size:16px;color:#ccccdc;-webkit-text-stroke:0.3px #ccccdc;transform:scaleX(0.9950);">09:20</span>
<span class="t" style="left:926.13px;top:1033.30px;font-size:16px;color:#ccccdc;-webkit-text-stroke:0.3px #ccccdc;transform:scaleX(0.9950);">09:30</span>
<span class="t" style="left:1088.73px;top:1033.30px;font-size:16px;color:#ccccdc;-webkit-text-stroke:0.3px #ccccdc;transform:scaleX(0.9950);">09:40</span>
<span class="t" style="left:1614.62px;top:741.20px;font-size:19.6px;color:#ccccdc;font-weight:700;-webkit-text-stroke:0.3px #ccccdc;transform:scaleX(0.8907);">bucket created - Hourly</span>
<span class="t" style="left:2056.78px;top:744.20px;font-size:16px;color:#5cacec;font-weight:700;transform:scaleX(0.9713);">Last 1 hour timeshift -1h</span>
<span class="t" style="left:1223.55px;top:789.00px;font-size:16px;color:#ccccdc;-webkit-text-stroke:0.3px #ccccdc;transform:scaleX(0.9950);">1</span>
<span class="t" style="left:1192.56px;top:845.00px;font-size:16px;color:#ccccdc;-webkit-text-stroke:0.3px #ccccdc;transform:scaleX(0.9950);">0.500</span>
<span class="t" style="left:1223.55px;top:901.00px;font-size:16px;color:#ccccdc;-webkit-text-stroke:0.3px #ccccdc;transform:scaleX(0.9950);">0</span>
<span class="t" style="left:1187.26px;top:957.00px;font-size:16px;color:#ccccdc;-webkit-text-stroke:0.3px #ccccdc;transform:scaleX(0.9950);">-0.500</span>
<span class="t" style="left:1218.24px;top:1013.00px;font-size:16px;color:#ccccdc;-webkit-text-stroke:0.3px #ccccdc;transform:scaleX(0.9950);">-1</span>
<span class="t" style="left:1359.63px;top:1033.30px;font-size:16px;color:#ccccdc;-webkit-text-stroke:0.3px #ccccdc;transform:scaleX(0.9950);">08:50</span>
<span class="t" style="left:1522.23px;top:1033.30px;font-size:16px;color:#ccccdc;-webkit-text-stroke:0.3px #ccccdc;transform:scaleX(0.9950);">09:00</span>
<span class="t" style="left:1684.83px;top:1033.30px;font-size:16px;color:#ccccdc;-webkit-text-stroke:0.3px #ccccdc;transform:scaleX(0.9950);">09:10</span>
<span class="t" style="left:1847.43px;top:1033.30px;font-size:16px;color:#ccccdc;-webkit-text-stroke:0.3px #ccccdc;transform:scaleX(0.9950);">09:20</span>
<span class="t" style="left:2010.03px;top:1033.30px;font-size:16px;color:#ccccdc;-webkit-text-stroke:0.3px #ccccdc;transform:scaleX(0.9950);">09:30</span>
<span class="t" style="left:2172.63px;top:1033.30px;font-size:16px;color:#ccccdc;-webkit-text-stroke:0.3px #ccccdc;transform:scaleX(0.9950);">09:40</span>
<span class="t" style="left:2712.09px;top:741.20px;font-size:19.6px;color:#ccccdc;font-weight:700;-webkit-text-stroke:0.3px #ccccdc;transform:scaleX(0.8907);">key created - Hourly</span>
<span class="t" style="left:3140.68px;top:744.20px;font-size:16px;color:#5cacec;font-weight:700;transform:scaleX(0.9713);">Last 1 hour timeshift -1h</span>
<span class="t" style="left:2307.45px;top:789.00px;font-size:16px;color:#ccccdc;-webkit-text-stroke:0.3px #ccccdc;transform:scaleX(0.9950);">1</span>
<span class="t" style="left:2276.46px;top:845.00px;font-size:16px;color:#ccccdc;-webkit-text-stroke:0.3px #ccccdc;transform:scaleX(0.9950);">0.500</span>
<span class="t" style="left:2307.45px;top:901.00px;font-size:16px;color:#ccccdc;-webkit-text-stroke:0.3px #ccccdc;transform:scaleX(0.9950);">0</span>
<span class="t" style="left:2271.16px;top:957.00px;font-size:16px;color:#ccccdc;-webkit-text-stroke:0.3px #ccccdc;transform:scaleX(0.9950);">-0.500</span>
<span class="t" style="left:2302.14px;top:1013.00px;font-size:16px;color:#ccccdc;-webkit-text-stroke:0.3px #ccccdc;transform:scaleX(0.9950);">-1</span>
<span class="t" style="left:2443.53px;top:1033.30px;font-size:16px;color:#ccccdc;-webkit-text-stroke:0.3px #ccccdc;transform:scaleX(0.9950);">08:50</span>
<span class="t" style="left:2606.13px;top:1033.30px;font-size:16px;color:#ccccdc;-webkit-text-stroke:0.3px #ccccdc;transform:scaleX(0.9950);">09:00</span>
<span class="t" style="left:2768.73px;top:1033.30px;font-size:16px;color:#ccccdc;-webkit-text-stroke:0.3px #ccccdc;transform:scaleX(0.9950);">09:10</span>
<span class="t" style="left:2931.33px;top:1033.30px;font-size:16px;color:#ccccdc;-webkit-text-stroke:0.3px #ccccdc;transform:scaleX(0.9950);">09:20</span>
<span class="t" style="left:3093.93px;top:1033.30px;font-size:16px;color:#ccccdc;-webkit-text-stroke:0.3px #ccccdc;transform:scaleX(0.9950);">09:30</span>
<span class="t" style="left:3256.53px;top:1033.30px;font-size:16px;color:#ccccdc;-webkit-text-stroke:0.3px #ccccdc;transform:scaleX(0.9950);">09:40</span>
<span class="t" style="left:535.52px;top:1096.00px;font-size:19.6px;color:#ccccdc;font-weight:700;-webkit-text-stroke:0.3px #ccccdc;transform:scaleX(0.8907);">volume created - Daily</span>
<span class="t" style="left:1052.84px;top:1098.10px;font-size:16px;color:#5cacec;font-weight:700;transform:scaleX(0.9580);">Last 24 hours</span>
<span class="t" style="left:104.74px;top:1144.00px;font-size:16px;color:#ccccdc;-webkit-text-stroke:0.3px #ccccdc;transform:scaleX(0.9950);">0.0000400</span>
<span class="t" style="left:104.74px;top:1200.00px;font-size:16px;color:#ccccdc;-webkit-text-stroke:0.3px #ccccdc;transform:scaleX(0.9950);">0.0000300</span>
<span class="t" style="left:104.74px;top:1256.00px;font-size:16px;color:#ccccdc;-webkit-text-stroke:0.3px #ccccdc;transform:scaleX(0.9950);">0.0000200</span>
<span class="t" style="left:104.74px;top:1312.00px;font-size:16px;color:#ccccdc;-webkit-text-stroke:0.3px #ccccdc;transform:scaleX(0.9950);">0.0000100</span>
<span class="t" style="left:171.15px;top:1368.00px;font-size:16px;color:#ccccdc;-webkit-text-stroke:0.3px #ccccdc;transform:scaleX(0.9950);">0</span>
<span class="t" style="left:219.03px;top:1388.20px;font-size:16px;color:#ccccdc;-webkit-text-stroke:0.3px #ccccdc;transform:scaleX(0.9950);">12:00</span>
<span class="t" style="left:376.58px;top:1388.20px;font-size:16px;color:#ccccdc;-webkit-text-stroke:0.3px #ccccdc;transform:scaleX(0.9950);">16:00</span>
<span class="t" style="left:534.63px;top:1388.20px;font-size:16px;color:#ccccdc;-webkit-text-stroke:0.3px #ccccdc;transform:scaleX(0.9950);">20:00</span>
<span class="t" style="left:692.18px;top:1388.20px;font-size:16px;color:#ccccdc;-webkit-text-stroke:0.3px #ccccdc;transform:scaleX(0.9950);">00:00</span>
<span class="t" style="left:849.73px;top:1388.20px;font-size:16px;color:#ccccdc;-webkit-text-stroke:0.3px #ccccdc;transform:scaleX(0.9950);">04:00</span>
<span class="t" style="left:1007.28px;top:1388.20px;font-size:16px;color:#ccccdc;-webkit-text-stroke:0.3px #ccccdc;transform:scaleX(0.9950);">08:00</span>
<span class="t" style="left:1621.40px;top:1096.00px;font-size:19.6px;color:#ccccdc;font-weight:700;-webkit-text-stroke:0.3px #ccccdc;transform:scaleX(0.8907);">bucket created - Daily</span>
<span class="t" style="left:2136.74px;top:1098.10px;font-size:16px;color:#5cacec;font-weight:700;transform:scaleX(0.9580);">Last 24 hours</span>
<span class="t" style="left:1188.80px;top:1144.00px;font-size:16px;color:#ccccdc;-webkit-text-stroke:0.3px #ccccdc;transform:scaleX(0.9950);">0.000400</span>
<span class="t" style="left:1188.80px;top:1200.00px;font-size:16px;color:#ccccdc;-webkit-text-stroke:0.3px #ccccdc;transform:scaleX(0.9950);">0.000300</span>
<span class="t" style="left:1188.80px;top:1256.00px;font-size:16px;color:#ccccdc;-webkit-text-stroke:0.3px #ccccdc;transform:scaleX(0.9950);">0.000200</span>
<span class="t" style="left:1188.80px;top:1312.00px;font-size:16px;color:#ccccdc;-webkit-text-stroke:0.3px #ccccdc;transform:scaleX(0.9950);">0.000100</span>
<span class="t" style="left:1246.35px;top:1368.00px;font-size:16px;color:#ccccdc;-webkit-text-stroke:0.3px #ccccdc;transform:scaleX(0.9950);">0</span>
<span class="t" style="left:1295.03px;top:1388.20px;font-size:16px;color:#ccccdc;-webkit-text-stroke:0.3px #ccccdc;transform:scaleX(0.9950);">12:00</span>
<span class="t" style="left:1453.98px;top:1388.20px;font-size:16px;color:#ccccdc;-webkit-text-stroke:0.3px #ccccdc;transform:scaleX(0.9950);">16:00</span>
<span class="t" style="left:1613.43px;top:1388.20px;font-size:16px;color:#ccccdc;-webkit-text-stroke:0.3px #ccccdc;transform:scaleX(0.9950);">20:00</span>
<span class="t" style="left:1772.38px;top:1388.20px;font-size:16px;color:#ccccdc;-webkit-text-stroke:0.3px #ccccdc;transform:scaleX(0.9950);">00:00</span>
<span class="t" style="left:1931.33px;top:1388.20px;font-size:16px;color:#ccccdc;-webkit-text-stroke:0.3px #ccccdc;transform:scaleX(0.9950);">04:00</span>
<span class="t" style="left:2090.28px;top:1388.20px;font-size:16px;color:#ccccdc;-webkit-text-stroke:0.3px #ccccdc;transform:scaleX(0.9950);">08:00</span>
<span class="t" style="left:2718.87px;top:1096.00px;font-size:19.6px;color:#ccccdc;font-weight:700;-webkit-text-stroke:0.3px #ccccdc;transform:scaleX(0.8907);">key created - Daily</span>
<span class="t" style="left:3220.64px;top:1098.10px;font-size:16px;color:#5cacec;font-weight:700;transform:scaleX(0.9580);">Last 24 hours</span>
<span class="t" style="left:2273.19px;top:1144.00px;font-size:16px;color:#ccccdc;-webkit-text-stroke:0.3px #ccccdc;transform:scaleX(0.9950);">20</span>
<span class="t" style="left:2273.19px;top:1200.00px;font-size:16px;color:#ccccdc;-webkit-text-stroke:0.3px #ccccdc;transform:scaleX(0.9950);">15</span>
<span class="t" style="left:2273.19px;top:1256.00px;font-size:16px;color:#ccccdc;-webkit-text-stroke:0.3px #ccccdc;transform:scaleX(0.9950);">10</span>
<span class="t" style="left:2282.05px;top:1312.00px;font-size:16px;color:#ccccdc;-webkit-text-stroke:0.3px #ccccdc;transform:scaleX(0.9950);">5</span>
<span class="t" style="left:2282.05px;top:1368.00px;font-size:16px;color:#ccccdc;-webkit-text-stroke:0.3px #ccccdc;transform:scaleX(0.9950);">0</span>
<span class="t" style="left:2332.33px;top:1388.20px;font-size:16px;color:#ccccdc;-webkit-text-stroke:0.3px #ccccdc;transform:scaleX(0.9950);">12:00</span>
<span class="t" style="left:2499.53px;top:1388.20px;font-size:16px;color:#ccccdc;-webkit-text-stroke:0.3px #ccccdc;transform:scaleX(0.9950);">16:00</span>
<span class="t" style="left:2667.23px;top:1388.20px;font-size:16px;color:#ccccdc;-webkit-text-stroke:0.3px #ccccdc;transform:scaleX(0.9950);">20:00</span>
<span class="t" style="left:2834.43px;top:1388.20px;font-size:16px;color:#ccccdc;-webkit-text-stroke:0.3px #ccccdc;transform:scaleX(0.9950);">00:00</span>
<span class="t" style="left:3001.63px;top:1388.20px;font-size:16px;color:#ccccdc;-webkit-text-stroke:0.3px #ccccdc;transform:scaleX(0.9950);">04:00</span>
<span class="t" style="left:3168.83px;top:1388.20px;font-size:16px;color:#ccccdc;-webkit-text-stroke:0.3px #ccccdc;transform:scaleX(0.9950);">08:00</span>
</div>
</body></html>
